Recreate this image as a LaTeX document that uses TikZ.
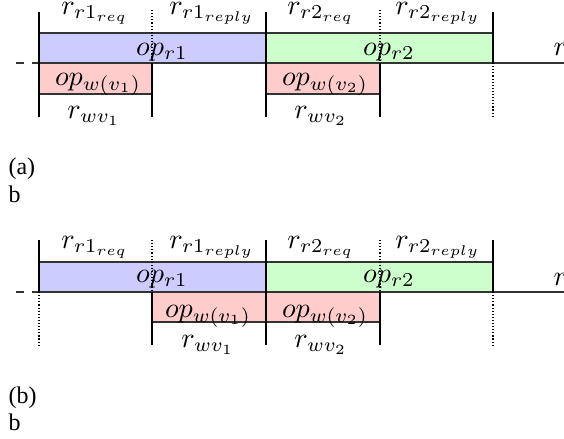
\documentclass[tikz,border=0pt]{standalone}
\usepackage{fontspec}
\newfontfamily\capfont{Liberation Serif}
\begin{document}
\begin{tikzpicture}[x=0.355pt,y=-0.355pt,
  opbar/.style={draw=black!80, line width=0.45pt},
  readop/.style={opbar, fill=blue!20},
  readopb/.style={opbar, fill=green!20},
  writeop/.style={opbar, fill=red!20},
  bound/.style={line width=0.8pt},
  split/.style={dash pattern={on 0.4pt off 0.7pt}, line width=0.4pt},
  lead/.style={draw=black!80, line width=0.45pt, dash pattern={on 2.9pt off 2.9pt}},
  axis/.style={draw=black!80, line width=0.45pt},
  lbl/.style={anchor=base, inner sep=0pt, font=\normalsize},
  captext/.style={anchor=base west, inner sep=0pt, font=\capfont\fontsize{8.5pt}{10pt}\selectfont}]
\useasboundingbox (0,0) rectangle (564,438);
\clip (0,0) rectangle (564,438);

% ---------- (a): writes placed under the request halves ----------
\coordinate (a0) at (39,63);
\coordinate (a4) at (493,63);
\filldraw[readop]  (39,33) rectangle (266,63);
\filldraw[readopb] (266,33) rectangle (493,63);
\filldraw[writeop] (39,63) rectangle (152,94);
\filldraw[writeop] (266,63) rectangle (380,94);
\draw[lead] (16,63) -- (a0);
\draw[axis] (a4) -- (564,63);
\draw[bound] (39,12) -- (39,117);
\draw[bound] (266,12) -- (266,117);
\draw[bound] (152,63) -- (152,117);
\draw[bound] (380,63) -- (380,117);
\draw[bound] (493,12) -- (493,63);
\draw[split] (152,10) -- (152,63);
\draw[split] (380,10) -- (380,63);
\draw[split] (493,63) -- (493,117);

\node[lbl] (a-r1req)   at (95,14)  {$r_{r1_{req}}$};
\node[lbl] (a-r1rep)   at (212,14) {$r_{r1_{reply}}$};
\node[lbl] (a-r2req)   at (321,14) {$r_{r2_{req}}$};
\node[lbl] (a-r2rep)   at (438,14) {$r_{r2_{reply}}$};
\node[lbl] (a-opr1)    at (162,55) {$op_{r1}$};
\node[lbl] (a-opr2)    at (389,55) {$op_{r2}$};
\node[lbl] (a-opw1)    at (98,85)  {$op_{w(v_1)}$};
\node[lbl] (a-opw2)    at (325,85) {$op_{w(v_2)}$};
\node[lbl] (a-rw1)     at (94,118) {$r_{wv_1}$};
\node[lbl] (a-rw2)     at (321,118) {$r_{wv_2}$};
\node[lbl, anchor=base west] (a-next) at (553,55) {$r$};

\node[captext] (capa)  at (8,174) {(a)};
\node[captext] (capa2) at (8,202) {b};

% ---------- (b): writes placed under the reply halves ----------
\coordinate (b0) at (39,292);
\coordinate (b4) at (493,292);
\filldraw[readop]  (39,262) rectangle (266,292);
\filldraw[readopb] (266,262) rectangle (493,292);
\filldraw[writeop] (152,292) rectangle (266,322);
\filldraw[writeop] (266,292) rectangle (380,322);
\draw[lead] (16,292) -- (b0);
\draw[axis] (b4) -- (564,292);
\draw[bound] (39,240) -- (39,292);
\draw[bound] (266,240) -- (266,345);
\draw[bound] (152,292) -- (152,345);
\draw[bound] (380,292) -- (380,345);
\draw[bound] (493,240) -- (493,292);
\draw[split] (39,292) -- (39,345);
\draw[split] (152,240) -- (152,292);
\draw[split] (380,240) -- (380,292);
\draw[split] (493,292) -- (493,345);

\node[lbl] (b-r1req)   at (95,248)  {$r_{r1_{req}}$};
\node[lbl] (b-r1rep)   at (212,248) {$r_{r1_{reply}}$};
\node[lbl] (b-r2req)   at (321,248) {$r_{r2_{req}}$};
\node[lbl] (b-r2rep)   at (438,248) {$r_{r2_{reply}}$};
\node[lbl] (b-opr1)    at (162,282) {$op_{r1}$};
\node[lbl] (b-opr2)    at (389,282) {$op_{r2}$};
\node[lbl] (b-opw1)    at (208,317) {$op_{w(v_1)}$};
\node[lbl] (b-opw2)    at (325,317) {$op_{w(v_2)}$};
\node[lbl] (b-rw1)     at (208,347) {$r_{wv_1}$};
\node[lbl] (b-rw2)     at (321,347) {$r_{wv_2}$};
\node[lbl, anchor=base west] (b-next) at (553,285) {$r$};

\node[captext] (capb)  at (8,403) {(b)};
\node[captext] (capb2) at (8,430) {b};
\end{tikzpicture}
\end{document}
